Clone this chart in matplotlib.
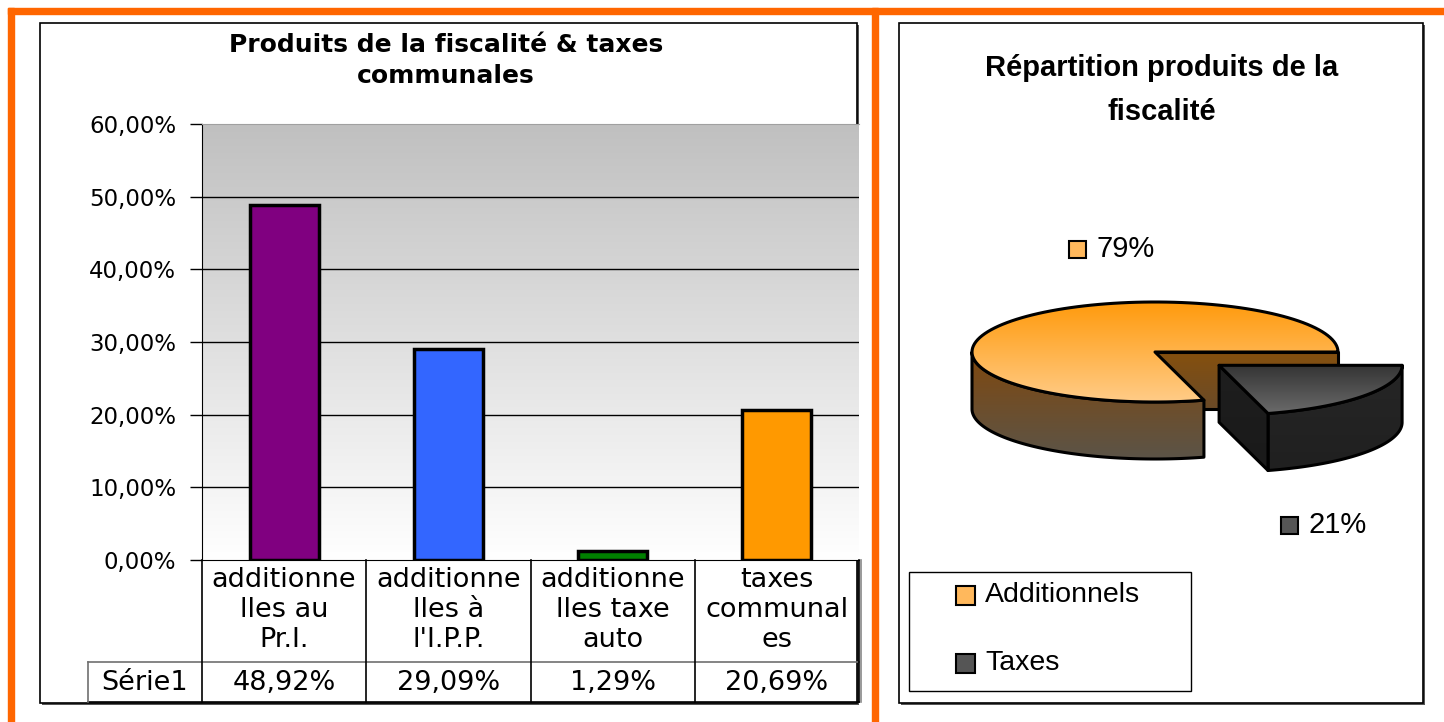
import numpy as np
import matplotlib
matplotlib.use("Agg")
import matplotlib.pyplot as plt
from matplotlib.patches import Rectangle, Polygon
from matplotlib.colors import LinearSegmentedColormap
from matplotlib.ticker import FuncFormatter
import matplotlib.transforms as mtransforms

# donnees du graphique en barres
categories = ["additionne\nlles au\nPr.I.", "additionne\nlles à\nl'I.P.P.",
              "additionne\nlles taxe\nauto", "taxes\ncommunal\nes"]
valeurs = [0.4892, 0.2909, 0.0129, 0.2069]
couleurs = ["#800080", "#3366FF", "#008000", "#FF9900"]
serie = "Série1"
titre_barres = ["Produits de la fiscalité & taxes", "communales"]

# donnees du camembert
parts_labels = ["Additionnels", "Taxes"]
parts_valeurs = [sum(valeurs[:3]), valeurs[3]]
titre_pie = ["Répartition produits de la", "fiscalité"]

ORANGE = "#FF6600"
FONT_G = "DejaVu Sans"
FONT_D = "Liberation Sans"

fig = plt.figure(figsize=(14.44, 7.22), dpi=100)
bg = fig.add_axes([0, 0, 1, 1])
bg.axis("off")


def pct(v):
    return f"{v * 100:.2f}%".replace(".", ",")


def degrade(ax, verts, c_haut, c_bas, z, lw=2.2):
    verts = np.asarray(verts)
    poly = Polygon(verts, closed=True, facecolor="none", edgecolor="black",
                   lw=lw, joinstyle="round", zorder=z + 0.5)
    ax.add_patch(poly)
    cmap = LinearSegmentedColormap.from_list("g", [c_haut, c_bas])
    x0, x1 = verts[:, 0].min(), verts[:, 0].max()
    y0, y1 = verts[:, 1].min(), verts[:, 1].max()
    im = ax.imshow(np.linspace(0, 1, 256)[:, None], cmap=cmap, aspect="auto",
                   extent=(x0, x1, y1, y0), origin="upper", zorder=z)
    im.set_clip_path(poly)


# bordure orange et cadres
bg.add_patch(Rectangle((8, 8), 1436, 6, color=ORANGE, zorder=1))
bg.add_patch(Rectangle((8, 8), 6, 714, color=ORANGE, zorder=1))
bg.add_patch(Rectangle((872, 8), 6, 714, color=ORANGE, zorder=1))
for (x, y, w, h) in [(40, 23, 817, 680), (899, 23, 524, 680)]:
    bg.add_patch(Rectangle((x + 2, y + 2), w, h, facecolor="#555555", edgecolor="none", zorder=1))
    bg.add_patch(Rectangle((x, y), w, h, facecolor="white", edgecolor="black", lw=1.2, zorder=2))

# titre gauche
bg.text(446, 45, titre_barres[0], ha="center", va="center", fontsize=18,
        fontweight="bold", family=FONT_G, zorder=5)
bg.text(446, 76, titre_barres[1], ha="center", va="center", fontsize=18,
        fontweight="bold", family=FONT_G, zorder=5)

# ---- graphique en barres ----
W, H = 1444, 722
ax = fig.add_axes([202 / W, (H - 560) / H, 657 / W, 436 / H])
ax.set_facecolor("none")
n = len(valeurs)
x = np.arange(n)
ax.imshow(np.linspace(0, 1, 256)[:, None],
          cmap=LinearSegmentedColormap.from_list("f", ["#C0C0C0", "#FFFFFF"]),
          aspect="auto", extent=(-0.5, n - 0.5, 0, 0.6), origin="upper", zorder=0)
for g in np.arange(0.1, 0.55, 0.1):
    ax.axhline(g, color="black", lw=1, zorder=1)
ax.bar(x, valeurs, width=0.42, color=couleurs, edgecolor="black", lw=2.5, zorder=3)
ax.set_xlim(-0.5, n - 0.5)
ax.set_ylim(0, 0.6)
ax.set_yticks(np.arange(0, 0.61, 0.1))
ax.yaxis.set_major_formatter(FuncFormatter(lambda v, p: pct(v)))
ax.tick_params(axis="y", direction="out", length=8.6, width=1, pad=10, labelsize=16.5)
for lab in ax.get_yticklabels():
    lab.set_family(FONT_G)
ax.set_xticks([])
ax.spines["right"].set_visible(False)
ax.spines["top"].set_color("#A0A0A0")
ax.spines["left"].set_color("black")
ax.spines["bottom"].set_color("black")

# tableau de donnees sous l'axe
tr = mtransforms.blended_transform_factory(ax.transData, ax.transAxes)
y_div = (560 - 662) / 436
y_bas = (560 - 702) / 436
x_serie = (88 - 202) / (657 / n) - 0.5
kw = dict(transform=tr, clip_on=False, lw=1.2, zorder=4)
ax.plot([x_serie, n - 0.5], [y_div, y_div], color="#707070", **kw)
ax.plot([x_serie, n - 0.5], [y_bas, y_bas], color="black", **kw)
ax.plot([x_serie, x_serie], [y_div, y_bas], color="#707070", **kw)
for xb in np.arange(-0.5, n, 1.0):
    ax.plot([xb, xb], [0, y_bas], color="black", **kw)
ax.plot([n - 0.5 + 0.012, n - 0.5 + 0.012], [0, y_bas], color="#888888", **kw)

lignes_y = [(560 - 580) / 436, (560 - 610) / 436, (560 - 640) / 436]
for i, cat in enumerate(categories):
    for j, ligne in enumerate(cat.split("\n")):
        ax.text(i, lignes_y[j], ligne, transform=tr, ha="center", va="center",
                fontsize=19.5, family=FONT_G, clip_on=False)
    ax.text(i, (560 - 683) / 436, pct(valeurs[i]), transform=tr, ha="center",
            va="center", fontsize=19.5, family=FONT_G, clip_on=False)
ax.text((x_serie - 0.5) / 2, (560 - 683) / 436, serie, transform=tr, ha="center",
        va="center", fontsize=19.5, family=FONT_G, clip_on=False)

# ---- camembert 3D ----
bg.text(1162, 68, titre_pie[0], ha="center", va="center", fontsize=21,
        fontweight="bold", family=FONT_D, zorder=5)
bg.text(1162, 112, titre_pie[1], ha="center", va="center", fontsize=21,
        fontweight="bold", family=FONT_D, zorder=5)

cx, cy, a, b, ep = 1155, 352, 183, 50, 57
fr = np.array(parts_valeurs) / sum(parts_valeurs)
t1 = 360 * fr[1]          # part "Taxes" de 0 a t1, "Additionnels" de t1 a 360


def arc(x0, y0, d0, d1, k=120):
    t = np.radians(np.linspace(d0, d1, k))
    return np.column_stack([x0 + a * np.cos(t), y0 + b * np.sin(t)])


# part Additionnels
degrade(bg, [(cx, cy), (cx + a, cy), (cx + a, cy + ep), (cx, cy + ep)],
        "#85500E", "#6A4A28", 10)
haut = arc(cx, cy, t1, 180)
degrade(bg, np.vstack([haut, (haut + [0, ep])[::-1]]), "#80480E", "#5B5448", 11)
degrade(bg, np.vstack([[(cx, cy)], arc(cx, cy, t1, 360)]), "#FF9A0C", "#FFCC88", 12)

# part Taxes, detachee
mid = np.radians(t1 / 2)
ex = 0.44
tx, ty = cx + ex * a * np.cos(mid), cy + ex * b * np.sin(mid)
haut = arc(tx, ty, 0, t1)
degrade(bg, np.vstack([haut, (haut + [0, ep])[::-1]]), "#262626", "#202020", 13)
pt = haut[-1]
degrade(bg, [(tx, ty), pt, pt + [0, ep], (tx, ty + ep)], "#1E1E1E", "#1A1A1A", 14)
degrade(bg, np.vstack([[(tx, ty)], haut]), "#333333", "#6A6A6A", 15)

# etiquettes du camembert
etiq = [(1069, 249, "#FFB85C", parts_valeurs[0]), (1281, 525, "#555555", parts_valeurs[1])]
for (ex_, ey_, c, v) in etiq:
    bg.add_patch(Rectangle((ex_, ey_ - 8.5), 17, 17, facecolor=c, edgecolor="black", lw=1.5, zorder=20))
    bg.text(ex_ + 27, ey_, f"{v / sum(parts_valeurs) * 100:.0f}%", ha="left", va="center",
            fontsize=21, family=FONT_D, zorder=20)

# legende
bg.add_patch(Rectangle((909, 572), 282, 119, facecolor="white", edgecolor="black", lw=1, zorder=20))
for (ly, c, lab) in [(595, "#FFB85C", parts_labels[0]), (663, "#555555", parts_labels[1])]:
    bg.add_patch(Rectangle((956, ly - 9.5), 19, 19, facecolor=c, edgecolor="black", lw=1.5, zorder=21))
    bg.text(985, ly, lab, ha="left", va="center", fontsize=20.5, family=FONT_D, zorder=21)

bg.set_xlim(0, W)
bg.set_ylim(H, 0)

fig.savefig("out.png", dpi=100)
